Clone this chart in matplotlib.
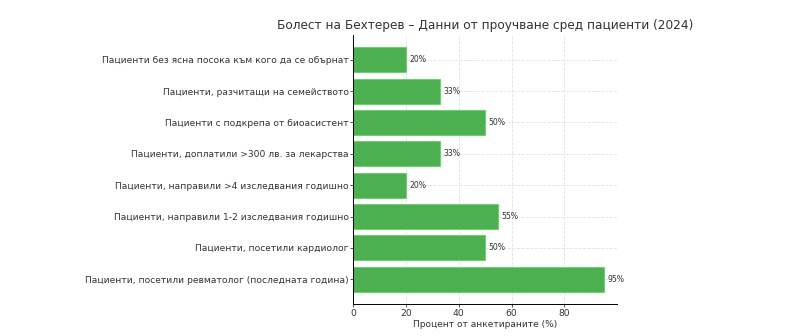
import matplotlib.pyplot as plt

# данни от проучването
categories = [
    "Пациенти, посетили ревматолог (последната година)",
    "Пациенти, посетили кардиолог",
    "Пациенти, направили 1-2 изследвания годишно",
    "Пациенти, направили >4 изследвания годишно",
    "Пациенти, доплатили >300 лв. за лекарства",
    "Пациенти с подкрепа от биоасистент",
    "Пациенти, разчитащи на семейството",
    "Пациенти без ясна посока към кого да се обърнат",
]
percentages = [95, 50, 55, 20, 33, 50, 33, 20]

fig = plt.figure(figsize=(8.04, 3.36), dpi=100)
ax = fig.add_axes([0.439, 0.095, 0.328, 0.801])

bars = ax.barh(categories, percentages, color="#4CAF50", edgecolor="#6fcf73", linewidth=0.8)
for bar, v in zip(bars, percentages):
    ax.text(bar.get_width() + 1.2, bar.get_y() + bar.get_height() / 2, f"{v}%",
            va="center", ha="left", fontsize=5.6, color="#333333")

ax.set_title("Болест на Бехтерев – Данни от проучване сред пациенти (2024)", fontsize=8.7,
             color="#333333", pad=4)
ax.set_xlabel("Процент от анкетираните (%)", fontsize=6.5, color="#333333", labelpad=1.5)
ax.tick_params(axis="both", labelsize=6.6, colors="#333333", length=2, width=0.6, pad=1.2)
ax.grid(True, linestyle="--", color="#e2e2e2", linewidth=0.6)
ax.set_axisbelow(True)
for s in ["top", "right"]:
    ax.spines[s].set_visible(False)
for s in ["left", "bottom"]:
    ax.spines[s].set_linewidth(0.7)

fig.savefig("out.png", dpi=100)
